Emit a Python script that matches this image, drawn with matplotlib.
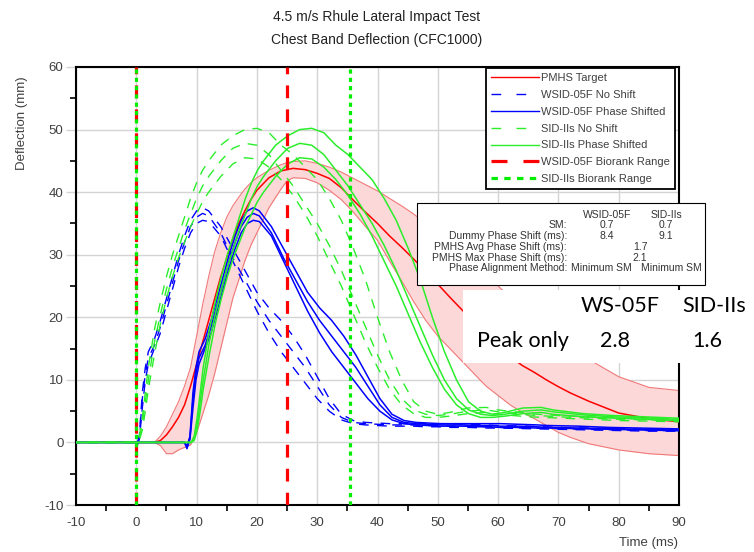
import numpy as np
import matplotlib
matplotlib.use("Agg")
import matplotlib.pyplot as plt
from matplotlib.lines import Line2D
from matplotlib.patches import Rectangle

plt.rcParams['font.family'] = ['Liberation Sans', 'DejaVu Sans']
plt.rcParams['axes.unicode_minus'] = False

# ---- data ----
# PMHS target corridor
t_pmhs = [-10, 3, 4, 5, 6, 7, 8, 9, 10, 11, 12, 13, 14, 15, 16, 17, 18, 19, 20, 22, 24, 25, 26, 28,
          30, 32, 34, 36, 38, 40, 42, 44, 46, 48, 50, 52, 54, 56, 58, 60, 62, 64, 66, 68, 70, 72,
          75, 80, 85, 90]
pmhs_mean = [0, 0, 0.3, 1.2, 2.5, 4, 6, 9, 12.5, 16, 19.5, 23, 26.5, 29.5, 32.5, 35, 37, 38.8, 40.3,
             42.3, 43.4, 43.6, 43.8, 43.6, 43, 42.2, 40.7, 38.7, 36.8, 35, 33, 31.2, 29.3, 27.3, 25.3,
             23.2, 21.2, 19.2, 17.2, 15.3, 13.7, 12.3, 11.2, 10, 8.9, 7.9, 6.6, 4.7, 3.8, 3.3]
pmhs_upper = [0, 0, 1, 2.5, 4.5, 6.5, 9, 12, 17, 22, 26.5, 30.5, 33.5, 36, 37.8, 39.2, 40.5, 41.5,
              42.3, 43.5, 44.4, 44.7, 44.9, 45, 44.6, 44, 43.2, 42.2, 41.2, 40.2, 39, 37.8, 36.5, 35,
              33.5, 32, 30.5, 29, 27, 25, 23.2, 21.5, 19.8, 18.2, 16.6, 15.2, 13.3, 10.5, 8.8, 8.3]
pmhs_lower = [0, 0, -0.5, -1.8, -1.8, -1.2, -0.8, -0.4, 1.5, 4.5, 7.5, 11, 15, 19, 23, 26, 29, 31.5,
              33.5, 37.5, 40.5, 41.8, 42.3, 42.2, 41.5, 40.3, 38.8, 36.8, 34.5, 32.3, 29, 25.8, 22.5,
              19.5, 17, 15, 13, 11, 9, 7.5, 6, 4.8, 3.8, 2.7, 1.6, 0.8, -0.2, -1.2, -1.8, -2.1]

# dummy curves, no shift (ms, mm)
t_dummy = [-20, -0.4, 0, 0.5, 1, 1.5, 2, 3, 4, 5, 6, 7, 8, 9, 10, 11, 12, 14, 16, 18, 20, 22, 24, 26,
           28, 30, 32, 34, 36, 38, 40, 42, 44, 46, 48, 50, 52, 55, 58, 60, 65, 70, 75, 80, 85, 90]
wsid_1 = [0, 0, -0.8, 1, 8, 12, 14.5, 16.5, 19.5, 23, 26.5, 30, 33, 35.5, 37, 37.5, 37, 34.5, 31,
          27.5, 24, 21.5, 19.5, 17, 14, 10.5, 7, 4.5, 3.5, 3.2, 3.1, 3, 3, 3, 3, 3, 3, 2.9, 2.8,
          2.7, 2.6, 2.4, 2.3, 2.2, 2.1, 2]
wsid_2 = [0, 0, -0.5, 0.8, 7, 11, 13.5, 15.5, 18.5, 22, 25.5, 29, 32, 34.5, 36, 36.6, 36.2, 33.5,
          29.5, 26, 22.5, 19.5, 17, 14.5, 12, 9, 6, 4, 3.2, 3, 2.9, 2.8, 2.8, 2.8, 2.7, 2.7, 2.6,
          2.6, 2.5, 2.4, 2.3, 2.2, 2.1, 2, 1.9, 1.9]
wsid_3 = [0, 0, -1, 0.5, 5.5, 10, 12.5, 15, 17.5, 21, 24.5, 28, 31, 33.5, 35, 35.5, 35.3, 33, 29,
          25, 21, 17.5, 14.5, 12, 9.5, 7, 5, 3.6, 3, 2.8, 2.7, 2.6, 2.6, 2.6, 2.5, 2.5, 2.4, 2.4,
          2.3, 2.3, 2.2, 2.1, 2, 1.9, 1.8, 1.8]
sid_1 = [0, 0, 0, 1, 4, 8, 12, 18, 22.5, 26.5, 30, 33, 36, 39, 41.5, 43.5, 45, 47.5, 49, 50, 50.2,
         49.5, 47.5, 46, 44, 42, 39, 35.5, 31, 26, 20, 14.5, 10, 6.5, 5, 4.5, 4.8, 5.5, 5.6, 5.2,
         4.6, 4.3, 4.1, 3.9, 3.8, 3.7]
sid_2 = [0, 0, 0, 0.5, 3, 6.5, 10, 16, 20.5, 24.5, 28, 31, 34, 36.5, 39, 41, 42.5, 45, 47, 47.8,
         47.5, 46, 43.5, 41, 38, 35, 31.5, 27.5, 23, 18.5, 14, 10, 7, 5.2, 4.5, 4.3, 4.5, 5, 5.2,
         4.9, 4.4, 4.1, 3.9, 3.7, 3.6, 3.5]
sid_3 = [0, 0, 0, 0.3, 2, 5, 8.5, 14, 19, 23, 26.5, 29.5, 32, 34.5, 36.5, 38.5, 40, 42.5, 44.5,
         45.5, 45.3, 44, 42, 39.5, 36.5, 33, 29, 25, 20.5, 16, 12, 8.5, 6, 4.6, 4, 4, 4.2, 4.6,
         4.8, 4.5, 4.1, 3.9, 3.7, 3.5, 3.4, 3.3]

wsid_shift = 8.4   # ms, dummy phase shift
sid_shift = 9.1

wsid_range = [0, 25]     # biorank window (ms)
sid_range = [0, 35.5]

RED = '#ff0000'
BLUE = '#0000ff'
GREEN = '#2bee2b'
GRAY_TXT = '#404040'
BOX_TXT = '#333333'

fig = plt.figure(figsize=(7.54, 5.52), dpi=100)
W, H = 754, 552
ax = fig.add_axes([76 / W, 1 - 505 / H, 603 / W, 438 / H])

# corridor
ax.fill_between(t_pmhs, pmhs_lower, pmhs_upper, color='#fdd8d8', lw=0, zorder=1)
ax.plot(t_pmhs, pmhs_upper, color='#f07878', lw=0.8, zorder=2)
ax.plot(t_pmhs, pmhs_lower, color='#f07878', lw=0.8, zorder=2)
ax.plot(t_pmhs, pmhs_mean, color=RED, lw=1.1, zorder=3)

t_arr = np.array(t_dummy)
for y in [wsid_1, wsid_2, wsid_3]:
    ax.plot(t_arr, y, color=BLUE, lw=1.0, dashes=(7, 6), zorder=4)
    ax.plot(t_arr + wsid_shift, y, color=BLUE, lw=1.1, zorder=4)
for y in [sid_1, sid_2, sid_3]:
    ax.plot(t_arr, y, color=GREEN, lw=1.0, dashes=(7, 6), zorder=4)
    ax.plot(t_arr + sid_shift, y, color=GREEN, lw=1.1, zorder=4)

for x in wsid_range:
    ax.axvline(x, color=RED, lw=2.3, dashes=(4, 3.5), zorder=5)
for x in sid_range:
    ax.axvline(x, color='#00ee00', lw=2.3, dashes=(1.3, 1.3), zorder=6)

ax.set_xlim(-10, 90)
ax.set_ylim(-10, 60)
ax.set_xticks(np.arange(-10, 91, 10))
ax.set_yticks(np.arange(-10, 61, 10))
ax.set_xticks(np.arange(-5, 90, 10), minor=True)
ax.set_yticks(np.arange(-5, 60, 10), minor=True)
ax.grid(True, which='major', color='#d4d4d4', lw=1)
ax.set_axisbelow(True)
ax.tick_params(axis='x', which='major', length=0, pad=9, labelsize=9.5, labelcolor=GRAY_TXT)
ax.tick_params(axis='y', which='major', length=7, color='#d4d4d4', width=1, pad=2,
               labelsize=9.5, labelcolor=GRAY_TXT)
ax.tick_params(which='minor', length=4, width=1.2, color='black', direction='out')
for s in ax.spines.values():
    s.set_linewidth(1.5)
    s.set_color('black')

fig.text(377 / W, 1 - 17 / H, '4.5 m/s Rhule Lateral Impact Test', ha='center', va='center',
         fontsize=10, color='#222222')
fig.text(377 / W, 1 - 40 / H, 'Chest Band Deflection (CFC1000)', ha='center', va='center',
         fontsize=10, color='#222222')
fig.text(22 / W, 1 - 123 / H, 'Deflection (mm)', rotation=90, ha='center', va='center',
         fontsize=9.5, color=GRAY_TXT)
fig.text(678 / W, 1 - 543 / H, 'Time (ms)', ha='right', va='center', fontsize=9.5, color=GRAY_TXT)

# legend
handles = [
    Line2D([], [], color=RED, lw=1),
    Line2D([], [], color=BLUE, lw=1, dashes=(7, 11)),
    Line2D([], [], color=BLUE, lw=1),
    Line2D([], [], color=GREEN, lw=1, dashes=(7, 11)),
    Line2D([], [], color=GREEN, lw=1),
    Line2D([], [], color=RED, lw=2.3, dashes=(5, 5)),
    Line2D([], [], color='#00ee00', lw=2.3, dashes=(2, 2)),
]
labels = ['PMHS Target', 'WSID-05F No Shift', 'WSID-05F Phase Shifted', 'SID-IIs No Shift',
          'SID-IIs Phase Shifted', 'WSID-05F Biorank Range', 'SID-IIs Biorank Range']
leg = ax.legend(handles, labels, loc='upper right', bbox_to_anchor=(0.993, 0.998),
                borderaxespad=0, fontsize=8, handlelength=4.3, handletextpad=0.15,
                labelspacing=0.62, borderpad=0.45, fancybox=False, framealpha=1)
leg.get_frame().set_edgecolor('black')
leg.get_frame().set_linewidth(1.3)
for txt in leg.get_texts():
    txt.set_color(GRAY_TXT)
leg.set_zorder(10)

# stats box
fig.patches.append(Rectangle((417 / W, 1 - 285 / H), 288 / W, 82 / H, transform=fig.transFigure,
                             facecolor='white', edgecolor='black', lw=0.8, zorder=5))
stat_rows = ['SM:', 'Dummy Phase Shift (ms):', 'PMHS Avg Phase Shift (ms):',
             'PMHS Max Phase Shift (ms):', 'Phase Alignment Method:']
wsid_vals = ['0.7', '8.4', '', '', 'Minimum SM']
sid_vals = ['0.7', '9.1', '', '', 'Minimum SM']
shared_vals = ['', '', '1.7', '2.1', '']
st = dict(fontsize=7.5, color=BOX_TXT, va='center', zorder=6)
fig.text(607 / W, 1 - 215 / H, 'WSID-05F', ha='center', **st)
fig.text(666 / W, 1 - 215 / H, 'SID-IIs', ha='center', **st)
for i, lab in enumerate(stat_rows):
    yy = 1 - (225.5 + 10.7 * i) / H
    fig.text(567 / W, yy, lab, ha='right', **st)
    if i == 4:
        fig.text(571 / W, yy, wsid_vals[i], ha='left', **st)
        fig.text(702 / W, yy, sid_vals[i], ha='right', **st)
    else:
        fig.text(607 / W, yy, wsid_vals[i], ha='center', **st)
        fig.text(666 / W, yy, sid_vals[i], ha='center', **st)
        fig.text(640 / W, yy, shared_vals[i], ha='center', **st)

# peak-only overlay box
fig.patches.append(Rectangle((463 / W, 1 - 363 / H), 291 / W, 73 / H, transform=fig.transFigure,
                             facecolor='white', edgecolor='none', zorder=7))
big = dict(fontsize=15.5, color='black', family=['Lato', 'DejaVu Sans'], va='center', zorder=8)
fig.text(620 / W, 1 - 306 / H, 'WS-05F', ha='center', **big)
fig.text(714 / W, 1 - 306 / H, 'SID-IIs', ha='center', **big)
fig.text(477 / W, 1 - 341 / H, 'Peak only', ha='left', **big)
fig.text(615 / W, 1 - 341 / H, '2.8', ha='center', **big)
fig.text(707 / W, 1 - 341 / H, '1.6', ha='center', **big)

fig.savefig('out.png', dpi=100)
